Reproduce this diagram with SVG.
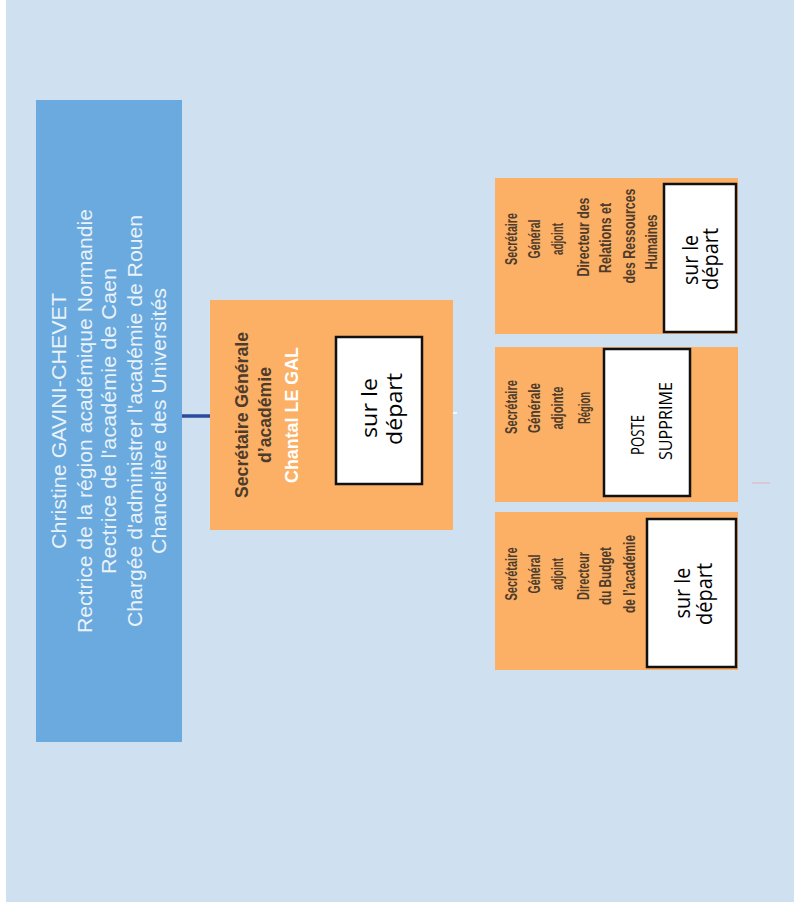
<svg xmlns="http://www.w3.org/2000/svg" width="794" height="911" viewBox="0 0 794 911">
<style>
.bt{font-family:"Liberation Sans",Arial,sans-serif;font-size:21px;fill:#eaf2fa;text-anchor:middle}
.ot{font-family:"Liberation Sans",Arial,sans-serif;font-size:17px;font-weight:bold;fill:#4d3b2b;text-anchor:middle}
.sg{font-family:"Liberation Sans",Arial,sans-serif;font-size:18px;font-weight:bold;fill:#4d3b2b;text-anchor:middle}
.wt{font-family:"Open Sans","Noto Sans",sans-serif;font-size:21px;fill:#000;text-anchor:middle}
.orange{fill:#fbb066}
.wbox{fill:#fff;stroke:#111;stroke-width:2.5}
</style>
<rect x="0" y="0" width="794" height="911" fill="#ffffff"/>
<rect x="6" y="0" width="788" height="902" fill="#cfe0f1"/>

<g id="connectors">
<line x1="182" y1="416" x2="210" y2="416" stroke="#2b4b9b" stroke-width="3.5"/>
<line x1="453" y1="413" x2="457" y2="413" stroke="#f4f8fc" stroke-width="2"/>
<line x1="752" y1="483" x2="770" y2="483" stroke="#dcc0cc" stroke-width="1.5"/>
</g>

<g id="recteur">
<rect x="36" y="100" width="146" height="642" fill="#6aaade"/>
<text class="bt" transform="translate(66,421) rotate(-90)" textLength="256" lengthAdjust="spacingAndGlyphs">Christine GAVINI-CHEVET</text>
<text class="bt" transform="translate(92,421) rotate(-90)" textLength="424" lengthAdjust="spacingAndGlyphs">Rectrice de la région académique Normandie</text>
<text class="bt" transform="translate(116,421) rotate(-90)" textLength="306" lengthAdjust="spacingAndGlyphs">Rectrice de l'académie de Caen</text>
<text class="bt" transform="translate(142,421) rotate(-90)" textLength="412" lengthAdjust="spacingAndGlyphs">Chargée d'administrer l'académie de Rouen</text>
<text class="bt" transform="translate(166,421) rotate(-90)" textLength="266" lengthAdjust="spacingAndGlyphs">Chancelière des Universités</text>
</g>

<g id="sg">
<rect class="orange" x="210" y="300" width="243" height="230"/>
<text class="sg" transform="translate(248,415) rotate(-90)" textLength="166" lengthAdjust="spacingAndGlyphs">Secrétaire Générale</text>
<text class="sg" transform="translate(271,415) rotate(-90)" textLength="96" lengthAdjust="spacingAndGlyphs">d’académie</text>
<text class="sg" transform="translate(298,415) rotate(-90)" textLength="136" lengthAdjust="spacingAndGlyphs" style="fill:#ffffff">Chantal LE GAL</text>
<rect class="wbox" x="336" y="337" width="86" height="147"/>
<text class="wt" transform="translate(377,408) rotate(-90)" textLength="60" lengthAdjust="spacingAndGlyphs">sur le</text>
<text class="wt" transform="translate(402,409) rotate(-90)" textLength="72" lengthAdjust="spacingAndGlyphs">départ</text>
</g>

<g id="sga-rh">
<rect class="orange" x="495" y="178" width="243" height="156"/>
<text class="ot" transform="translate(517,239) rotate(-90)" textLength="52" lengthAdjust="spacingAndGlyphs">Secrétaire</text>
<text class="ot" transform="translate(540,239) rotate(-90)" textLength="39" lengthAdjust="spacingAndGlyphs">Général</text>
<text class="ot" transform="translate(563,239) rotate(-90)" textLength="32" lengthAdjust="spacingAndGlyphs">adjoint</text>
<text class="ot" transform="translate(589,237) rotate(-90)" textLength="79" lengthAdjust="spacingAndGlyphs">Directeur des</text>
<text class="ot" transform="translate(611,238) rotate(-90)" textLength="70" lengthAdjust="spacingAndGlyphs">Relations et</text>
<text class="ot" transform="translate(635,236) rotate(-90)" textLength="95" lengthAdjust="spacingAndGlyphs">des Ressources</text>
<text class="ot" transform="translate(657,242) rotate(-90)" textLength="55" lengthAdjust="spacingAndGlyphs">Humaines</text>
<rect class="wbox" x="664" y="184" width="72" height="148"/>
<text class="wt" transform="translate(698,260) rotate(-90)" textLength="50" lengthAdjust="spacingAndGlyphs">sur le</text>
<text class="wt" transform="translate(718,259) rotate(-90)" textLength="62" lengthAdjust="spacingAndGlyphs">départ</text>
</g>

<g id="sga-region">
<rect class="orange" x="495" y="347" width="243" height="155"/>
<text class="ot" transform="translate(517,407) rotate(-90)" textLength="54" lengthAdjust="spacingAndGlyphs">Secrétaire</text>
<text class="ot" transform="translate(540,408) rotate(-90)" textLength="50" lengthAdjust="spacingAndGlyphs">Générale</text>
<text class="ot" transform="translate(563,408) rotate(-90)" textLength="43" lengthAdjust="spacingAndGlyphs">adjointe</text>
<text class="ot" transform="translate(590,408) rotate(-90)" textLength="32" lengthAdjust="spacingAndGlyphs">Région</text>
<rect class="wbox" x="604" y="349" width="86" height="147"/>
<text class="wt" transform="translate(644,435) rotate(-90)" textLength="40" lengthAdjust="spacingAndGlyphs" style="font-size:19px">POSTE</text>
<text class="wt" transform="translate(672,421) rotate(-90)" textLength="78" lengthAdjust="spacingAndGlyphs" style="font-size:18px">SUPPRIME</text>
</g>

<g id="sga-budget">
<rect class="orange" x="495" y="512" width="243" height="158"/>
<text class="ot" transform="translate(517,574) rotate(-90)" textLength="53" lengthAdjust="spacingAndGlyphs">Secrétaire</text>
<text class="ot" transform="translate(540,574) rotate(-90)" textLength="39" lengthAdjust="spacingAndGlyphs">Général</text>
<text class="ot" transform="translate(563,574) rotate(-90)" textLength="32" lengthAdjust="spacingAndGlyphs">adjoint</text>
<text class="ot" transform="translate(589,576) rotate(-90)" textLength="48" lengthAdjust="spacingAndGlyphs">Directeur</text>
<text class="ot" transform="translate(611,576) rotate(-90)" textLength="58" lengthAdjust="spacingAndGlyphs">du Budget</text>
<text class="ot" transform="translate(635,574) rotate(-90)" textLength="78" lengthAdjust="spacingAndGlyphs">de l’académie</text>
<rect class="wbox" x="647" y="519" width="89" height="148"/>
<text class="wt" transform="translate(690,593) rotate(-90)" textLength="51" lengthAdjust="spacingAndGlyphs">sur le</text>
<text class="wt" transform="translate(712,594) rotate(-90)" textLength="62" lengthAdjust="spacingAndGlyphs">départ</text>
</g>
</svg>
